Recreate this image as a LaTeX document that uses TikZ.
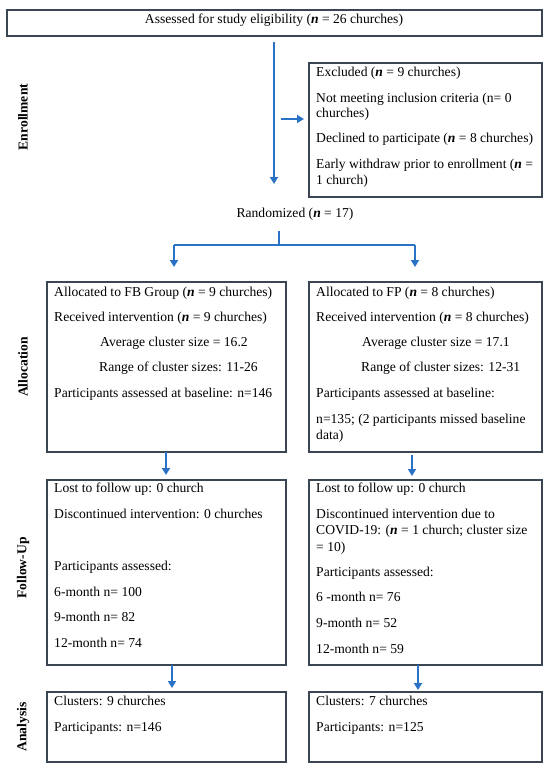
\documentclass[tikz,border=0pt]{standalone}
\usepackage{fontspec}
\setmainfont{Liberation Serif}
\usetikzlibrary{arrows.meta}
\definecolor{arrblue}{HTML}{2A72C6}
\definecolor{boxline}{HTML}{3A4654}
\newcommand{\nn}{\textbf{\textit{n}}}
\tikzset{
  box/.style={draw=boxline, line width=1.1pt},
  txt/.style={anchor=base west, inner sep=0pt, font=\fontsize{13.6}{16}\selectfont},
  ctxt/.style={anchor=base, inner sep=0pt, font=\fontsize{13.6}{16}\selectfont},
  side/.style={rotate=90, inner sep=0pt, font=\fontsize{13.6}{16}\selectfont\bfseries},
  arr/.style={draw=arrblue, line width=1.7pt, -{Triangle[length=7pt,width=8pt]}},
  ln/.style={draw=arrblue, line width=1.7pt}
}
\begin{document}
\begin{tikzpicture}[x=1pt,y=-1pt]
\useasboundingbox (0,0) rectangle (550,769);
% boxes
\draw[box] (7,10) rectangle (542,36);
\draw[box] (309,63) rectangle (542,197);
\draw[box] (47,282) rectangle (286,452);
\draw[box] (309,282) rectangle (542,452);
\draw[box] (47,480) rectangle (286,665);
\draw[box] (309,480) rectangle (542,665);
\draw[box] (47,692) rectangle (286,762);
\draw[box] (309,692) rectangle (542,762);
% side labels
\node[side] (lenr) at (23,117) {Enrollment};
\node[side] (lall) at (23,367) {Allocation};
\node[side] (lfu) at (23,568) {Follow-Up};
\node[side] (lan) at (23,727) {Analysis};
% top
\node[ctxt] (t0) at (274,23.5) {Assessed for study eligibility (\nn{} = 26 churches)};
% excluded
\node[txt] (e1) at (316,76.5) {Excluded (\nn{} = 9 churches)};
\node[txt] (e2) at (316,102.5) {Not meeting inclusion criteria (n= 0};
\node[txt] (e3) at (316,117.5) {churches)};
\node[txt] (e4) at (316,142.5) {Declined to participate (\nn{} = 8 churches)};
\node[txt] (e5) at (316,168.5) {Early withdraw prior to enrollment (\nn{} =};
\node[txt] (e6) at (316,184.5) {1 church)};
% randomized
\node[ctxt] (rnd) at (295,217.5) {Randomized (\nn{} = 17)};
% allocation left
\node[txt] (a1) at (54,296.5) {Allocated to FB Group (\nn{} = 9 churches)};
\node[txt] (a2) at (54,321.5) {Received intervention (\nn{} = 9 churches)};
\node[txt] (a3) at (100,346.5) {Average cluster size = 16.2};
\node[txt] (a4) at (99,371.5) {Range of cluster sizes: 11-26};
\node[txt] (a5) at (54,397.5) {Participants assessed at baseline: n=146};
% allocation right
\node[txt] (b1) at (316,296.5) {Allocated to FP (\nn{} = 8 churches)};
\node[txt] (b2) at (316,321.5) {Received intervention (\nn{} = 8 churches)};
\node[txt] (b3) at (362,346.5) {Average cluster size = 17.1};
\node[txt] (b4) at (361,371.5) {Range of cluster sizes: 12-31};
\node[txt] (b5) at (316,397.5) {Participants assessed at baseline:};
\node[txt] (b6) at (316,423.5) {n=135; (2 participants missed baseline};
\node[txt] (b7) at (316,439.5) {data)};
% follow-up left
\node[txt] (f1) at (54,492.5) {Lost to follow up: 0 church};
\node[txt] (f2) at (54,518.5) {Discontinued intervention: 0 churches};
\node[txt] (f3) at (54,570.5) {Participants assessed:};
\node[txt] (f4) at (54,596.5) {6-month n= 100};
\node[txt] (f5) at (54,621.5) {9-month n= 82};
\node[txt] (f6) at (54,647.5) {12-month n= 74};
% follow-up right
\node[txt] (g1) at (316,492.5) {Lost to follow up: 0 church};
\node[txt] (g2) at (316,518.5) {Discontinued intervention due to};
\node[txt] (g3) at (316,534.5) {COVID-19: (\nn{} = 1 church; cluster size};
\node[txt] (g4) at (316,551) {= 10)};
\node[txt] (g5) at (316,576.5) {Participants assessed:};
\node[txt] (g6) at (316,601.5) {6 -month n= 76};
\node[txt] (g7) at (316,627.5) {9-month n= 52};
\node[txt] (g8) at (316,653.5) {12-month n= 59};
% analysis
\node[txt] (h1) at (54,705.5) {Clusters: 9 churches};
\node[txt] (h2) at (54,731.5) {Participants: n=146};
\node[txt] (k1) at (316,705.5) {Clusters: 7 churches};
\node[txt] (k2) at (316,731.5) {Participants: n=125};
% connector points
\coordinate (v0) at (274,42);
\coordinate (v1) at (274,184);
\coordinate (h0) at (281,119);
\coordinate (h1e) at (304,119);
\coordinate (r0) at (279,231);
\coordinate (r1) at (279,245);
\coordinate (rl) at (174,245);
\coordinate (rr) at (415,245);
\coordinate (rl1) at (174,267);
\coordinate (rr1) at (415,267);
\coordinate (p0) at (166,452);
\coordinate (p1) at (166,475);
\coordinate (q0) at (412,455);
\coordinate (q1) at (412,476);
\coordinate (s0) at (172,665);
\coordinate (s1) at (172,688);
\coordinate (u0) at (418,665);
\coordinate (u1) at (418,690);
% connectors
\draw[arr] (v0) -- (v1);
\draw[arr] (h0) -- (h1e);
\draw[ln] (r0) -- (r1);
\draw[ln] (rl) -- (rr);
\draw[arr] (rl) -- (rl1);
\draw[arr] (rr) -- (rr1);
\draw[arr] (p0) -- (p1);
\draw[arr] (q0) -- (q1);
\draw[arr] (s0) -- (s1);
\draw[arr] (u0) -- (u1);
\end{tikzpicture}
\end{document}
